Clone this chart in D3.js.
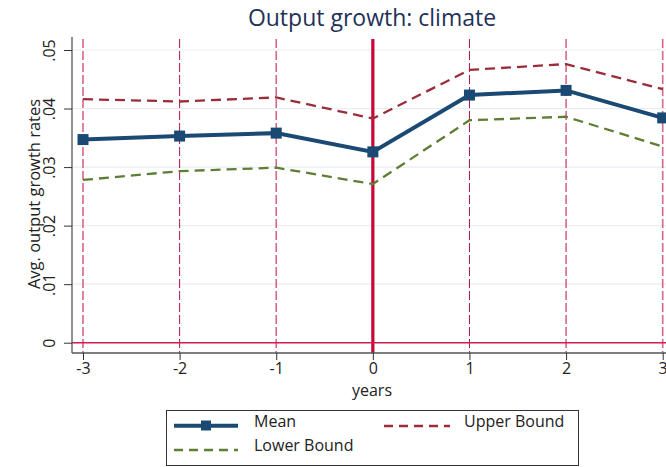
<!DOCTYPE html>
<html><head><meta charset="utf-8">
<script src="https://cdn.jsdelivr.net/npm/d3@7"></script>
<style>
html,body{margin:0;padding:0;background:#fff;}
text{font-family:"Open Sans","Noto Sans",sans-serif;}
</style></head>
<body>
<svg id="chart" width="666" height="467"></svg>
<script>
const years = [-3, -2, -1, 0, 1, 2, 3];
const meanVals  = [0.0347, 0.0353, 0.0358, 0.0326, 0.0423, 0.0431, 0.0384];
const upperVals = [0.0416, 0.0412, 0.0419, 0.0383, 0.0466, 0.0476, 0.0433];
const lowerVals = [0.0278, 0.0293, 0.0299, 0.0271, 0.0380, 0.0386, 0.0335];
const yTicks = [0, 0.01, 0.02, 0.03, 0.04, 0.05];
const yTickLabels = ["0", ".01", ".02", ".03", ".04", ".05"];
const xTicks = [-3, -2, -1, 0, 1, 2, 3];
const darkRefYears = [-2, 1];
const lightRefYears = [-3, -1, 2, 3];
const legendLabels = ["Mean", "Lower Bound", "Upper Bound"];

const FONT = '"Open Sans","Noto Sans",sans-serif';
const svg = d3.select("#chart");
const x = d3.scaleLinear().domain([-3, 3]).range([83, 662.7]);
const y = d3.scaleLinear().domain([0, 0.05]).range([342.7, 50]);
const plotTop = 39, plotBottom = 353, plotLeft = 72, plotRight = 666;

// gridlines
svg.append("g").selectAll("line").data(yTicks).join("line")
  .attr("x1", plotLeft).attr("x2", plotRight)
  .attr("y1", d => y(d)).attr("y2", d => y(d))
  .attr("stroke", "#e8eef2").attr("stroke-width", 1.2);

// vertical reference lines
svg.append("g").selectAll("line").data(lightRefYears).join("line")
  .attr("x1", d => x(d)).attr("x2", d => x(d))
  .attr("y1", plotTop).attr("y2", plotBottom)
  .attr("stroke", "#d9658a").attr("stroke-width", 1.6)
  .attr("stroke-dasharray", "9,3");
svg.append("g").selectAll("line").data(darkRefYears).join("line")
  .attr("x1", d => x(d)).attr("x2", d => x(d))
  .attr("y1", plotTop).attr("y2", plotBottom)
  .attr("stroke", "#b0123e").attr("stroke-width", 1)
  .attr("stroke-dasharray", "9,3");
svg.append("line")
  .attr("x1", x(0)).attr("x2", x(0))
  .attr("y1", plotTop).attr("y2", plotBottom)
  .attr("stroke", "#c8063a").attr("stroke-width", 3.2);

// zero line
svg.append("line")
  .attr("x1", plotLeft).attr("x2", plotRight)
  .attr("y1", y(0)).attr("y2", y(0))
  .attr("stroke", "#d21e4f").attr("stroke-width", 1.5);

// axes
const xAxis = d3.axisBottom(x).tickValues(xTicks).tickSize(7).tickPadding(3).tickFormat(d3.format("d"));
const gx = svg.append("g").attr("transform", `translate(0,${plotBottom})`).call(xAxis);
gx.select(".domain").attr("d", `M${plotLeft},0H${plotRight}`).attr("stroke", "#555").attr("stroke-width", 1.3);
gx.selectAll(".tick line").attr("stroke", "#333");
gx.selectAll(".tick text").attr("font-size", 16).attr("fill", "#222")
  .style("font-family", FONT).text(d => d < 0 ? "-" + Math.abs(d) : d);

const yAxis = d3.axisLeft(y).tickValues(yTicks).tickSize(8).tickFormat((d, i) => yTickLabels[i]);
const gy = svg.append("g").attr("transform", `translate(${plotLeft},0)`).call(yAxis);
gy.select(".domain").attr("d", `M0,${plotTop - 2}V${plotBottom}`).attr("stroke", "#555").attr("stroke-width", 1.3);
gy.selectAll(".tick line").attr("stroke", "#333");
gy.selectAll(".tick text").attr("font-size", 16).attr("fill", "#222")
  .style("font-family", FONT)
  .attr("x", null).attr("dy", null)
  .attr("text-anchor", "middle")
  .attr("transform", "translate(-17,0) rotate(-90)");

// series
const line = d3.line().x((d, i) => x(years[i])).y(d => y(d));
svg.append("path").datum(upperVals).attr("d", line)
  .attr("fill", "none").attr("stroke", "#9b2d3a").attr("stroke-width", 2.3).attr("stroke-dasharray", "10,6");
svg.append("path").datum(lowerVals).attr("d", line)
  .attr("fill", "none").attr("stroke", "#5e7d35").attr("stroke-width", 2.3).attr("stroke-dasharray", "10,6");
svg.append("path").datum(meanVals).attr("d", line)
  .attr("fill", "none").attr("stroke", "#1a4a74").attr("stroke-width", 4);
svg.append("g").selectAll("rect").data(meanVals).join("rect")
  .attr("x", (d, i) => x(years[i]) - 5.5).attr("y", d => y(d) - 5.5)
  .attr("width", 11).attr("height", 11).attr("fill", "#1a4a74");

// titles
svg.append("text").attr("x", 372).attr("y", 26).attr("text-anchor", "middle")
  .attr("font-size", 23).attr("fill", "#1f3257").text("Output growth: climate");
svg.append("text").attr("x", 372).attr("y", 396).attr("text-anchor", "middle")
  .attr("font-size", 16).attr("fill", "#222").text("years");
svg.append("text").attr("transform", "translate(40,194) rotate(-90)").attr("text-anchor", "middle")
  .attr("font-size", 16.5).attr("fill", "#222").text("Avg. output growth rates");

// legend
const lg = svg.append("g");
lg.append("rect").attr("x", 166.5).attr("y", 410.5).attr("width", 412).attr("height", 55)
  .attr("fill", "#fff").attr("stroke", "#333").attr("stroke-width", 1);
lg.append("line").attr("x1", 174).attr("x2", 238).attr("y1", 425.7).attr("y2", 425.7)
  .attr("stroke", "#1a4a74").attr("stroke-width", 4);
lg.append("rect").attr("x", 201).attr("y", 420.5).attr("width", 10).attr("height", 10).attr("fill", "#1a4a74");
lg.append("line").attr("x1", 174).attr("x2", 238).attr("y1", 450).attr("y2", 450)
  .attr("stroke", "#5e7d35").attr("stroke-width", 2.3).attr("stroke-dasharray", "9,6");
lg.append("line").attr("x1", 384).attr("x2", 450).attr("y1", 426).attr("y2", 426)
  .attr("stroke", "#9b2d3a").attr("stroke-width", 2.3).attr("stroke-dasharray", "9,6");
lg.append("text").attr("x", 254).attr("y", 427).attr("font-size", 16).attr("fill", "#222").text(legendLabels[0]);
lg.append("text").attr("x", 254).attr("y", 451).attr("font-size", 16).attr("fill", "#222").text(legendLabels[1]);
lg.append("text").attr("x", 464).attr("y", 427).attr("font-size", 16).attr("fill", "#222").text(legendLabels[2]);
</script>
</body></html>
